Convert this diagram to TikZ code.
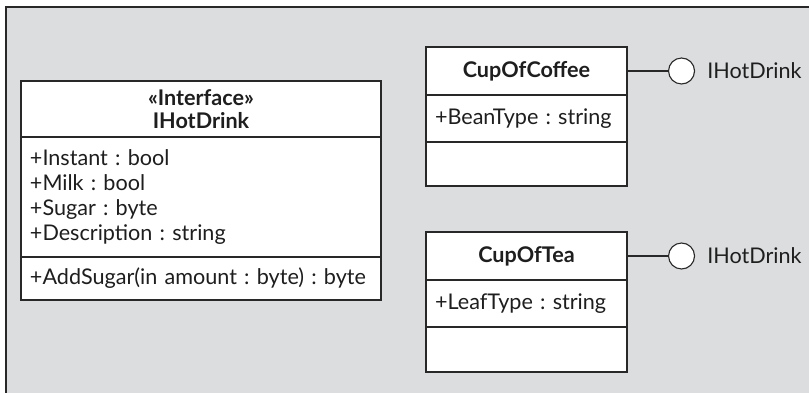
\documentclass[tikz,border=0pt]{standalone}
\usepackage{fontspec}
\setmainfont{Lato}
\usepackage{xcolor}
\definecolor{umlbg}{RGB}{220,221,223}
\definecolor{umlline}{RGB}{40,40,40}
\definecolor{umltext}{RGB}{30,30,30}
\usetikzlibrary{positioning}
\frenchspacing

\begin{document}
\begin{tikzpicture}[x=1pt, y=-1pt,
    classhead/.style={rectangle, draw=umlline, line width=1.1pt, fill=white, outer sep=0pt,
      align=center, font=\fontsize{21.6}{23.5}\selectfont\bfseries, text=umltext},
    classpart/.style={rectangle, draw=umlline, line width=1.1pt, fill=white, outer sep=0pt,
      inner xsep=9pt, align=left, font=\fontsize{21.6}{25}\selectfont, text=umltext},
    lollipop/.style={circle, draw=umlline, line width=1.1pt, fill=white, minimum size=26pt, inner sep=0pt},
    portlabel/.style={inner sep=3pt, font=\fontsize{21.6}{24}\selectfont, text=umltext}
  ]
    \useasboundingbox (0,0) rectangle (809,393);
    \fill[umlbg] (6,7) rectangle (809,393);
    \draw[umlline, line width=1.1pt] (809,7) -- (6,7) -- (6,393);

    % interface
    \node[classhead, anchor=north west, minimum width=360pt, minimum height=56pt] (iface) at (21,81)
      {«Interface»\\IHotDrink};
    \node[classpart, below=0pt of iface, minimum width=360pt, minimum height=120pt, text width=342pt] (ifaceattr)
      {+Instant : bool\\+Milk : bool\\+Sugar : byte\\+Description : string};
    \node[classpart, below=0pt of ifaceattr, minimum width=360pt, minimum height=43pt, text width=342pt] (ifaceops)
      {+AddSugar(in amount : byte) : byte};

    % coffee
    \node[classhead, anchor=north west, minimum width=201pt, minimum height=48pt] (coffee) at (426,47) {CupOfCoffee};
    \node[classpart, below=0pt of coffee, minimum width=201pt, minimum height=47pt, text width=183pt] (coffeeattr)
      {+BeanType : string};
    \node[classpart, below=0pt of coffeeattr, minimum width=201pt, minimum height=44pt] (coffeeops) {};

    % tea
    \node[classhead, anchor=north west, minimum width=201pt, minimum height=48pt] (tea) at (426,232) {CupOfTea};
    \node[classpart, below=0pt of tea, minimum width=201pt, minimum height=47pt, text width=183pt] (teaattr)
      {+LeafType : string};
    \node[classpart, below=0pt of teaattr, minimum width=201pt, minimum height=45pt] (teaops) {};

    % provided interfaces
    \node[lollipop, right=41pt of coffee] (coffeeport) {};
    \node[portlabel, right=9pt of coffeeport] (coffeelbl) {IHotDrink};
    \draw[umlline, line width=1.1pt] (coffee.east) -- (coffeeport.west);
    \node[lollipop, right=41pt of tea] (teaport) {};
    \node[portlabel, right=9pt of teaport] (tealbl) {IHotDrink};
    \draw[umlline, line width=1.1pt] (tea.east) -- (teaport.west);
  \end{tikzpicture}
\end{document}
